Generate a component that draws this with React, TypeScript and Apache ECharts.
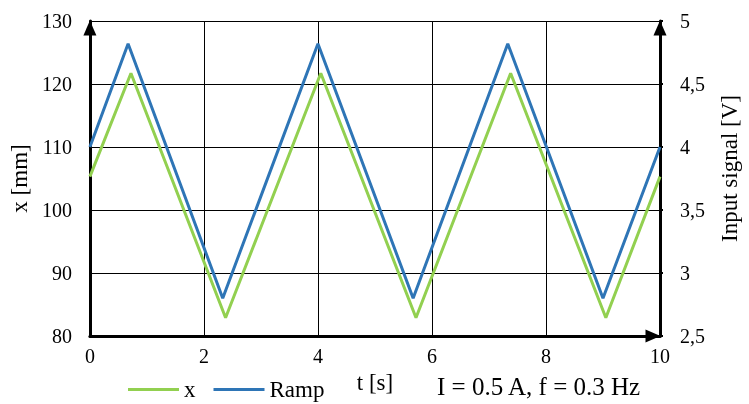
import React, { useEffect, useRef } from "react";
import * as echarts from "echarts";

const timeX = [0, 0.72, 2.38, 4.05, 5.72, 7.38, 9.05, 10];
const valuesX = [105.3, 121.7, 82.9, 121.7, 82.9, 121.7, 82.9, 105.3];

const timeRamp = [0, 0.67, 2.33, 4.0, 5.67, 7.33, 9.0, 10];
const valuesRamp = [4.0, 4.82, 2.8, 4.82, 2.8, 4.82, 2.8, 4.0];

const seriesNames = ["x", "Ramp"];
const leftAxisName = "x [mm]";
const rightAxisName = "Input signal [V]";
const xAxisName = "t [s]";
const annotation = "I = 0.5 A, f = 0.3 Hz";

const FONT = "Liberation Serif";

export default function App() {
  const ref = useRef<HTMLDivElement>(null);
  useEffect(() => {
    if (!ref.current) return;
    const chart = echarts.init(ref.current, null, { renderer: "svg" });
    const axisLine = {
      show: true,
      symbol: ["none", "triangle"],
      symbolSize: [13, 15],
      symbolOffset: [0, -7],
      lineStyle: { color: "#000", width: 3 },
    };
    chart.setOption({
      animation: false,
      textStyle: { fontFamily: FONT },
      grid: { left: 88, right: 84, top: 21, bottom: 68 },
      legend: {
        left: 123,
        top: 373,
        icon: "rect",
        itemWidth: 51,
        itemHeight: 3,
        itemGap: 18,
        data: seriesNames,
        textStyle: { fontFamily: FONT, fontSize: 23, color: "#000" },
      },
      graphic: [
        {
          type: "text",
          left: 437,
          top: 374,
          style: { text: annotation, fontFamily: FONT, fontSize: 25, fill: "#000" },
        },
      ],
      xAxis: {
        type: "value",
        min: 0,
        max: 10,
        interval: 2,
        name: xAxisName,
        nameLocation: "middle",
        nameGap: 24,
        nameTextStyle: { fontFamily: FONT, fontSize: 23, color: "#000" },
        axisLine,
        axisTick: { show: false },
        axisLabel: { fontFamily: FONT, fontSize: 20, color: "#000", margin: 10 },
        splitLine: { show: true, lineStyle: { color: "#000", width: 1 } },
      },
      yAxis: [
        {
          type: "value",
          min: 80,
          max: 130,
          interval: 10,
          position: "left",
          name: leftAxisName,
          nameLocation: "middle",
          nameGap: 57,
          nameRotate: 90,
          nameTextStyle: { fontFamily: FONT, fontSize: 23, color: "#000" },
          axisLine,
          axisTick: { show: false },
          axisLabel: { fontFamily: FONT, fontSize: 20, color: "#000", margin: 18 },
          splitLine: { show: true, lineStyle: { color: "#000", width: 1 } },
        },
        {
          type: "value",
          min: 2.5,
          max: 5,
          interval: 0.5,
          position: "right",
          name: rightAxisName,
          nameLocation: "middle",
          nameGap: 58,
          nameRotate: 90,
          nameTextStyle: {
            fontFamily: FONT,
            fontSize: 23,
            color: "#000",
            padding: [0, 0, 0, 20],
          },
          axisLine,
          axisTick: { show: true, length: 3, lineStyle: { color: "#000", width: 2 } },
          axisLabel: {
            fontFamily: FONT,
            fontSize: 20,
            color: "#000",
            margin: 20,
            formatter: (v: number) => String(v).replace(".", ","),
          },
          splitLine: { show: false },
        },
      ],
      series: [
        {
          name: seriesNames[0],
          type: "line",
          yAxisIndex: 0,
          showSymbol: false,
          color: "#92D050",
          lineStyle: { width: 3, color: "#92D050" },
          data: timeX.map((t, i) => [t, valuesX[i]]),
        },
        {
          name: seriesNames[1],
          type: "line",
          yAxisIndex: 1,
          showSymbol: false,
          color: "#2E75B6",
          lineStyle: { width: 3, color: "#2E75B6" },
          data: timeRamp.map((t, i) => [t, valuesRamp[i]]),
        },
      ],
    });
    return () => chart.dispose();
  }, []);
  return (
    <div
      ref={ref}
      style={{ position: "fixed", left: 0, top: 0, width: 749, height: 404 }}
    />
  );
}
